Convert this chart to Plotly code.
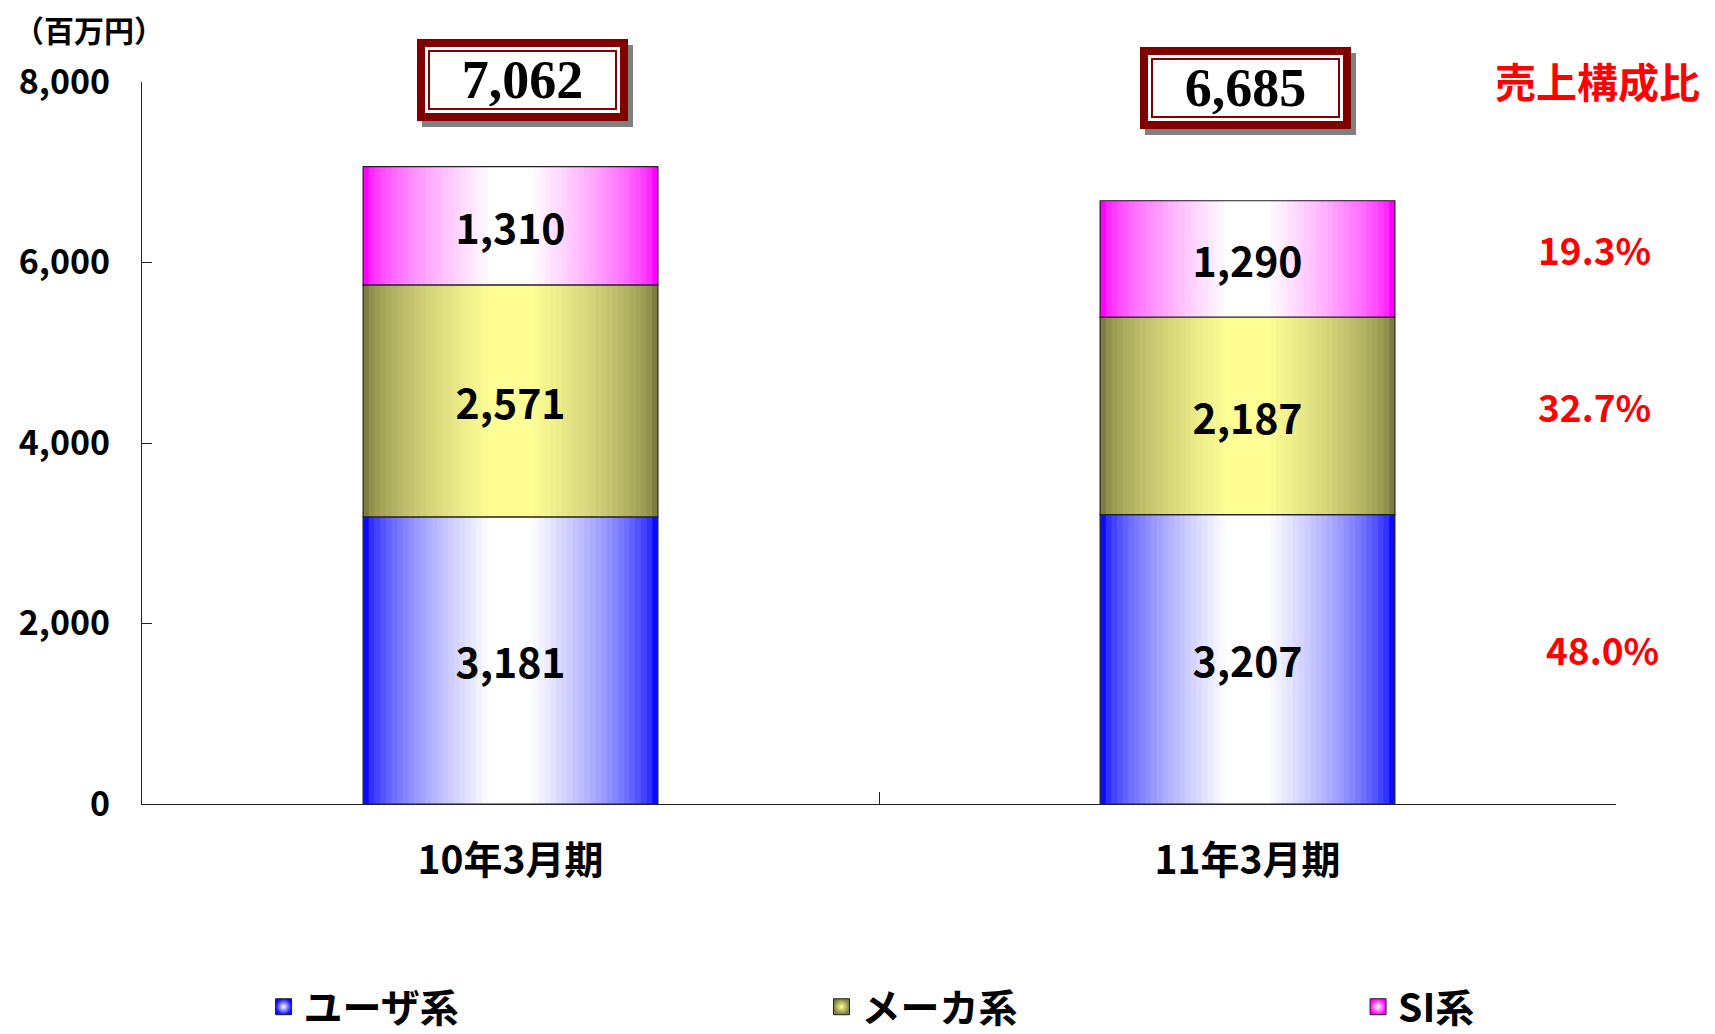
import plotly.graph_objects as go

# ---------------- data ----------------
categories = ["10年3月期", "11年3月期"]
series_names = ["ユーザ系", "メーカ系", "SI系"]
user_vals = [3181, 3207]
maker_vals = [2571, 2187]
si_vals = [1310, 1290]
totals = [7062, 6685]
y_ticks = [0, 2000, 4000, 6000, 8000]
unit_label = "（百万円）"
ratio_title = "売上構成比"

series_vals = [user_vals, maker_vals, si_vals]

# ---------------- styles ----------------
FONT = "Noto Sans CJK JP"
edge_colors = [(10, 10, 255), (125, 125, 65), (255, 0, 255)]
center_colors = [(255, 255, 255), (255, 255, 150), (255, 255, 255)]
BAR_W = 0.4
N_STEPS = 26
OUTLINE = "#222222"


def mix(c1, c2, t):
    return "rgb({},{},{})".format(*[round(a + (b - a) * t) for a, b in zip(c1, c2)])


fig = go.Figure()

# stacked bases computed from the data
bases = []
run = [0] * len(categories)
for vals in series_vals:
    bases.append(list(run))
    run = [r + v for r, v in zip(run, vals)]

# gradient fill: nested overlaid bars, lighter toward the centre
for s, vals in enumerate(series_vals):
    for k in range(N_STEPS):
        u = k / N_STEPS
        t = min(1.0, u / 0.85) ** 0.6
        fig.add_trace(go.Bar(
            x=categories, y=vals, base=bases[s],
            width=BAR_W * (1 - u),
            marker=dict(color=mix(edge_colors[s], center_colors[s], t), line=dict(width=0)),
            showlegend=False, hoverinfo="skip",
        ))
    # outline + value labels
    fig.add_trace(go.Bar(
        x=categories, y=vals, base=bases[s], width=BAR_W,
        marker=dict(color="rgba(0,0,0,0)", line=dict(color=OUTLINE, width=1.2)),
        text=[f"{v:,}" for v in vals], textposition="inside",
        insidetextanchor="middle", textangle=0,
        textfont=dict(family=FONT, size=41, color="black", weight="bold"),
        showlegend=False, name=series_names[s],
    ))

# legend entries (one legend per entry, spaced like the original)
legend_ids = ["legend", "legend2", "legend3"]
for s, name in enumerate(series_names):
    fig.add_trace(go.Scatter(
        x=[None], y=[None], mode="markers", name=name, legend=legend_ids[s],
        marker=dict(symbol="square", size=16,
                    color=mix(edge_colors[s], center_colors[s], 0),
                    gradient=dict(type="radial", color=mix(edge_colors[s], center_colors[s], 1)),
                    line=dict(color=OUTLINE, width=1)),
    ))

annotations = []

# total boxes
box_y = [1.0028, 0.9917]
box_dx = [12, -2]
for i, cat in enumerate(categories):
    common = dict(x=cat, xref="x", y=box_y[i], yref="paper", yanchor="middle",
                  xanchor="center", width=181, height=52, showarrow=False)
    annotations.append(dict(common, text=" ", xshift=box_dx[i] + 5, yshift=-6,
                            font=dict(family="Liberation Serif", size=54, color="rgba(0,0,0,0)"),
                            bgcolor="#808080", bordercolor="#808080", borderwidth=8, borderpad=7))
    annotations.append(dict(common, text=" ", xshift=box_dx[i],
                            font=dict(family="Liberation Serif", size=54, color="rgba(0,0,0,0)"),
                            bgcolor="white", bordercolor="#800000", borderwidth=8, borderpad=7))
    annotations.append(dict(common, text=f"<b>{totals[i]:,}</b>", xshift=box_dx[i],
                            font=dict(family="Liberation Serif", size=54, color="black"),
                            bgcolor="white", bordercolor="#800000", borderwidth=2, borderpad=2))

# composition ratio of the latest period
last = len(categories) - 1
ratio_x = [0.991, 0.9857, 0.9857]
for s, vals in enumerate(series_vals):
    pct = vals[last] / totals[last] * 100
    annotations.append(dict(
        x=ratio_x[s], xref="paper", xanchor="center",
        y=bases[s][last] + vals[last] / 2, yref="y", yanchor="middle",
        yshift=10, text=f"{pct:.1f}%", showarrow=False,
        font=dict(family=FONT, size=37, color="#ff0000", weight="bold"),
    ))
annotations.append(dict(
    x=0.9875, xref="paper", xanchor="center", y=1.003, yref="paper", yanchor="middle",
    text=ratio_title, showarrow=False,
    font=dict(family=FONT, size=41, color="#ff0000", weight="bold"),
))
annotations.append(dict(
    x=-0.036, xref="paper", xanchor="center", y=1.073, yref="paper", yanchor="middle",
    text=unit_label, showarrow=False,
    font=dict(family=FONT, size=30, color="black", weight="bold"),
))

legend_common = dict(orientation="h", xanchor="left", y=-0.281, yanchor="middle",
                     font=dict(family=FONT, size=39, weight="bold"),
                     bgcolor="rgba(0,0,0,0)")

# the page places the figure 8 px in from the top-left corner
fig.update_layout(
    width=1707, height=1026,
    margin=dict(l=134, r=99, t=74, b=230, autoexpand=False),
    barmode="overlay",
    plot_bgcolor="white", paper_bgcolor="white",
    font=dict(family=FONT, color="black"),
    xaxis=dict(
        type="category", showline=True, linecolor=OUTLINE, linewidth=1.2,
        ticks="inside", tickson="boundaries", ticklen=12, tickcolor=OUTLINE,
        tickfont=dict(family=FONT, size=39, weight="bold"),
        ticklabelstandoff=22, showgrid=False, automargin=False,
    ),
    yaxis=dict(
        range=[0, 8000], tickvals=y_ticks, tickformat=",",
        showline=True, linecolor=OUTLINE, linewidth=1.2,
        ticks="inside", ticklen=10, tickcolor=OUTLINE,
        tickfont=dict(family=FONT, size=34, weight="bold"),
        ticklabelstandoff=24, showgrid=False, zeroline=False, automargin=False,
    ),
    legend=dict(legend_common, x=0.0825),
    legend2=dict(legend_common, x=0.461),
    legend3=dict(legend_common, x=0.825),
    annotations=annotations,
)

fig.write_html("out.html")
